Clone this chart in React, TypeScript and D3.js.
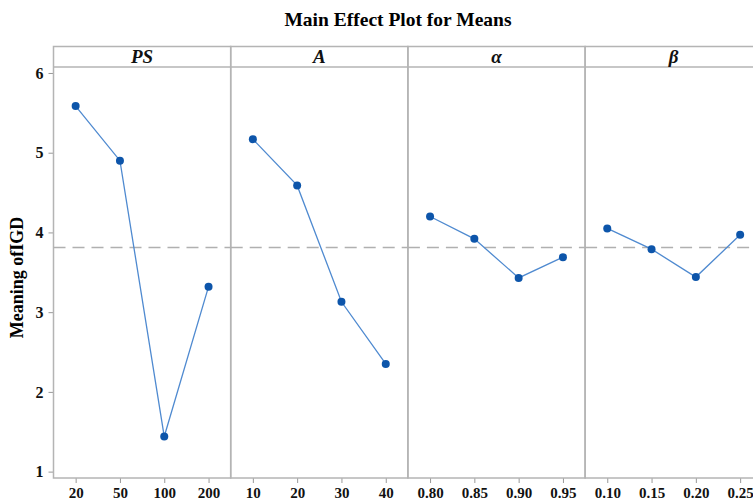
import React, { useEffect, useRef } from 'react';
import * as d3 from 'd3';

// factor names and levels
const factors = ['PS', 'A', 'α', 'β'];
const psLevels = ['20', '50', '100', '200'];
const aLevels = ['10', '20', '30', '40'];
const alphaLevels = ['0.80', '0.85', '0.90', '0.95'];
const betaLevels = ['0.10', '0.15', '0.20', '0.25'];

// mean of IGD per level
const psMeans = [5.585, 4.9, 1.44, 3.32];
const aMeans = [5.17, 4.59, 3.13, 2.35];
const alphaMeans = [4.2, 3.92, 3.43, 3.69];
const betaMeans = [4.05, 3.79, 3.44, 3.97];

const yTicks = [1, 2, 3, 4, 5, 6];
const grandMean = 3.81;

const FONT = '"Liberation Serif", "Times New Roman", serif';

export default function App() {
    const ref = useRef<SVGSVGElement>(null);

    useEffect(() => {
        const width = 753, height = 500;
        const marginLeft = 53.5, marginTop = 46.5, stripH = 20.5, marginBottom = 22;
        const panelW = 177.2;
        const plotTop = marginTop + stripH;
        const plotBottom = height - marginBottom;

        const svg = d3.select(ref.current);
        svg.selectAll('*').remove();

        const y = d3.scaleLinear().domain([0.92, 6.075]).range([plotBottom, plotTop]);

        const panels = [
            { name: factors[0], levels: psLevels, means: psMeans },
            { name: factors[1], levels: aLevels, means: aMeans },
            { name: factors[2], levels: alphaLevels, means: alphaMeans },
            { name: factors[3], levels: betaLevels, means: betaMeans },
        ];

        // title
        svg.append('text')
            .attr('x', 398).attr('y', 26)
            .attr('text-anchor', 'middle')
            .attr('font-family', FONT)
            .attr('font-weight', 'bold')
            .attr('font-size', 19.5)
            .text('Main Effect Plot for Means');

        // y axis title
        svg.append('text')
            .attr('transform', `translate(23,${(plotTop + plotBottom) / 2 + 5}) rotate(-90)`)
            .attr('text-anchor', 'middle')
            .attr('font-family', FONT)
            .attr('font-weight', 'bold')
            .attr('font-size', 18)
            .text('Meaning ofIGD');

        // y axis
        const yAxis = d3.axisLeft(y).tickValues(yTicks).tickSize(5).tickPadding(5).tickFormat(d3.format('d'));
        svg.append('g')
            .attr('transform', `translate(${marginLeft},0)`)
            .attr('font-family', FONT)
            .call(yAxis)
            .call(g => g.select('.domain').remove())
            .call(g => g.selectAll('.tick line').attr('stroke', '#999'))
            .call(g => g.selectAll('.tick text')
                .attr('font-family', FONT).attr('font-weight', 'bold').attr('font-size', 16).attr('fill', '#111'));

        const line = d3.line<[number, number]>().x(d => d[0]).y(d => d[1]);

        panels.forEach((p, i) => {
            const x0 = marginLeft + i * panelW;
            const x = d3.scalePoint<string>().domain(p.levels).range([x0, x0 + panelW]).padding(0.5);
            const g = svg.append('g');

            // x axis
            g.append('g')
                .attr('transform', `translate(0,${plotBottom})`)
                .call(d3.axisBottom(x).tickSize(5).tickPadding(4))
                .call(gg => gg.select('.domain').remove())
                .call(gg => gg.selectAll('.tick line').attr('stroke', '#999'))
                .call(gg => gg.selectAll('.tick text')
                    .attr('font-family', FONT).attr('font-weight', 'bold').attr('font-size', 15).attr('fill', '#111'));

            // panel box + strip
            g.append('rect')
                .attr('x', x0).attr('y', marginTop)
                .attr('width', panelW).attr('height', plotBottom - marginTop)
                .attr('fill', 'none').attr('stroke', '#b4b4b4').attr('stroke-width', 1.5);
            g.append('line')
                .attr('x1', x0).attr('x2', x0 + panelW)
                .attr('y1', plotTop).attr('y2', plotTop)
                .attr('stroke', '#b4b4b4').attr('stroke-width', 1.5);
            g.append('text')
                .attr('x', x0 + panelW / 2).attr('y', marginTop + 16)
                .attr('text-anchor', 'middle')
                .attr('font-family', FONT).attr('font-weight', 'bold').attr('font-style', 'italic')
                .attr('font-size', 19).attr('fill', '#111')
                .text(p.name);

            // grand mean reference
            g.append('line')
                .attr('x1', x0).attr('x2', x0 + panelW)
                .attr('y1', y(grandMean)).attr('y2', y(grandMean))
                .attr('stroke', '#b0b0b0').attr('stroke-width', 1.5)
                .attr('stroke-dasharray', '12,7');

            const pts: [number, number][] = p.levels.map((l, j) => [x(l) as number, y(p.means[j])]);
            g.append('path')
                .attr('d', line(pts))
                .attr('fill', 'none').attr('stroke', '#4f8ad0').attr('stroke-width', 1.3);
            g.selectAll('circle')
                .data(pts)
                .join('circle')
                .attr('cx', d => d[0]).attr('cy', d => d[1])
                .attr('r', 4).attr('fill', '#0d55aa');
        });
    }, []);

    return (
        <svg ref={ref} width={753} height={500}
             style={{ position: 'absolute', left: 0, top: 0, background: '#fff' }} />
    );
}
